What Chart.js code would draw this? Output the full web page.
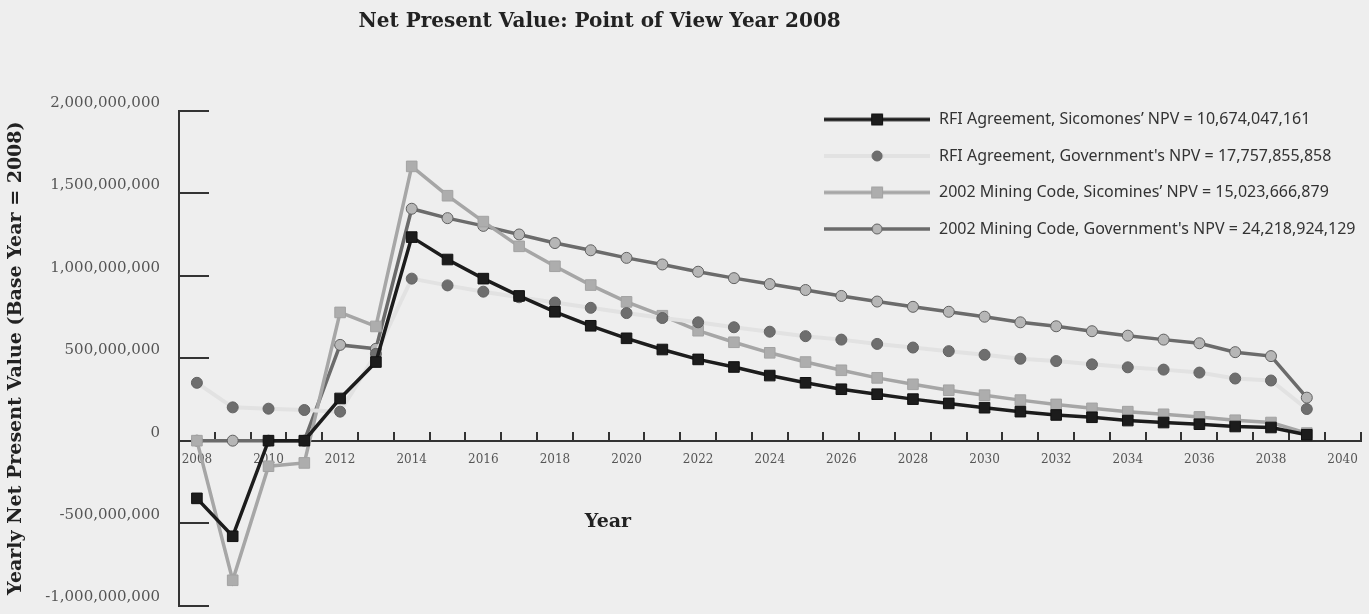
<!DOCTYPE html>
<html>
<head>
<meta charset="utf-8">
<script src="https://cdn.jsdelivr.net/npm/chart.js@4/dist/chart.umd.min.js"></script>
<style>
  html, body { margin: 0; padding: 0; background: #eeeeee; }
  #wrap { position: relative; width: 1369px; height: 614px; }
</style>
</head>
<body>
<div id="wrap"><canvas id="npvChart"></canvas></div>
<script>
const years = []
for (let y = 2008; y <= 2040; y++) years.push(String(y))

// yearly NPV, millions
const rfiSicomines = [-350, -580, 0, 0, 256, 477, 1235, 1099, 983, 878, 782, 697, 621, 553, 493, 447,
  395, 351, 312, 282, 252, 226, 200, 176, 156, 142, 122, 110, 100, 86, 80, 36]
const rfiGovernment = [351, 202, 194, 186, 176, 527, 983, 942, 904, 870, 838, 806, 774, 744, 718, 688,
  661, 634, 613, 587, 565, 543, 521, 497, 483, 463, 445, 431, 413, 377, 365, 192]
const codeSicomines = [0, -847, -155, -135, 778, 693, 1664, 1486, 1329, 1179, 1058, 944, 842, 758, 667, 597,
  533, 477, 427, 381, 342, 306, 276, 246, 220, 196, 176, 160, 144, 124, 110, 46]
const codeGovernment = [0, 0, 0, 0, 581, 557, 1407, 1350, 1303, 1251, 1199, 1155, 1109, 1069, 1025, 986,
  950, 914, 878, 844, 812, 782, 752, 718, 694, 664, 637, 613, 591, 537, 513, 261]

const seriesNames = [
  'RFI Agreement, Sicomones\u2019 NPV = 10,674,047,161',
  'RFI Agreement, Government\'s NPV = 17,757,855,858',
  '2002 Mining Code, Sicomines\u2019 NPV = 15,023,666,879',
  '2002 Mining Code, Government\'s NPV = 24,218,924,129'
]

const toUnits = (arr) => arr.map((v) => v * 1e6)

const serif = '"DejaVu Serif", "Liberation Serif", serif'
const axisColor = '#333333'

// legend glyph: line with the marker in the middle
function legendIcon(lineColor, lineWidth, shape, fill, stroke) {
  const c = document.createElement('canvas')
  c.width = 106
  c.height = 16
  const g = c.getContext('2d')
  g.strokeStyle = lineColor
  g.lineWidth = lineWidth
  g.beginPath()
  g.moveTo(0, 8)
  g.lineTo(106, 8)
  g.stroke()
  g.fillStyle = fill
  g.strokeStyle = stroke
  g.lineWidth = 1
  g.beginPath()
  if (shape === 'rect') g.rect(47.5, 2.5, 11, 11)
  else g.arc(53, 8, 5, 0, Math.PI * 2)
  g.fill()
  g.stroke()
  return c
}

const icons = [
  legendIcon('#1c1c1c', 3.5, 'rect', '#1c1c1c', '#111111'),
  legendIcon('#e2e2e2', 4, 'circle', '#6e6e6e', '#626262'),
  legendIcon('#a6a6a6', 3.5, 'rect', '#adadad', '#a2a2a2'),
  legendIcon('#6b6b6b', 3.5, 'circle', '#b6b6b6', '#5f5f5f')
]

const layoutTweaks = {
  id: 'layoutTweaks',
  afterLayout(chart) {
    const ca = chart.chartArea
    const lg = chart.legend
    lg.left = ca.right - lg.width + 5
    lg.right = lg.left + lg.width
    lg.top = ca.top - 20
    const t = chart.titleBlock
    t.left = 0
    t.right = 2 * (ca.left + (ca.right - ca.left) * 0.356)
  },
  afterDraw(chart) {
    const { ctx, chartArea: ca, scales } = chart
    ctx.save()
    ctx.font = 'bold 19px ' + serif
    ctx.fillStyle = '#222222'
    ctx.textAlign = 'center'
    ctx.textBaseline = 'middle'
    ctx.fillText('Year', ca.left + (ca.right - ca.left) * 0.363, scales.y.getPixelForValue(0) + 81)
    ctx.restore()
  }
}

const commonLine = {
  tension: 0,
  borderWidth: 3.5,
  pointBorderWidth: 1
}

const data = {
  labels: years,
  datasets: [
    {
      label: seriesNames[0],
      data: toUnits(rfiSicomines),
      borderColor: '#1c1c1c',
      pointStyle: 'rect',
      pointRadius: 7.5,
      pointBackgroundColor: '#1c1c1c',
      pointBorderColor: '#111111',
      ...commonLine
    },
    {
      label: seriesNames[1],
      data: toUnits(rfiGovernment),
      borderColor: '#e2e2e2',
      pointStyle: 'circle',
      pointRadius: 5.5,
      pointBackgroundColor: '#6e6e6e',
      pointBorderColor: '#626262',
      ...commonLine,
      borderWidth: 4
    },
    {
      label: seriesNames[2],
      data: toUnits(codeSicomines),
      borderColor: '#a6a6a6',
      pointStyle: 'rect',
      pointRadius: 7.5,
      pointBackgroundColor: '#adadad',
      pointBorderColor: '#a2a2a2',
      ...commonLine
    },
    {
      label: seriesNames[3],
      data: toUnits(codeGovernment),
      borderColor: '#6b6b6b',
      pointStyle: 'circle',
      pointRadius: 5.5,
      pointBackgroundColor: '#b6b6b6',
      pointBorderColor: '#5f5f5f',
      ...commonLine
    }
  ]
}

const config = {
  type: 'line',
  data,
  plugins: [layoutTweaks],
  options: {
    responsive: true,
    maintainAspectRatio: false,
    animation: false,
    layout: { padding: { left: 0, right: 7, top: 0, bottom: 8 } },
    plugins: {
      tooltip: { enabled: false },
      title: {
        display: true,
        text: 'Net Present Value: Point of View Year 2008',
        color: '#222222',
        font: { family: serif, size: 20, weight: 'bold' },
        padding: { top: 10, bottom: 77 }
      },
      legend: {
        position: 'chartArea',
        align: 'start',
        labels: {
          usePointStyle: true,
          pointStyleWidth: 108,
          padding: 20.5,
          color: '#333333',
          font: { family: '"Noto Sans", sans-serif', size: 16 },
          generateLabels(chart) {
            const items = Chart.defaults.plugins.legend.labels.generateLabels(chart)
            items.forEach((it, i) => { it.pointStyle = icons[i] })
            return items
          }
        }
      }
    },
    scales: {
      x: {
        type: 'category',
        position: { y: 0 },
        offset: true,
        grid: {
          display: true,
          drawOnChartArea: false,
          offset: true,
          tickLength: -10,
          color: axisColor,
          lineWidth: 2
        },
        border: { display: true, color: axisColor, width: 2 },
        ticks: {
          autoSkip: false,
          maxRotation: 0,
          padding: 22,
          color: '#555555',
          font: { family: '"DejaVu Serif", serif', size: 12 },
          callback: (v, i) => (i % 2 === 0 ? years[i] : '')
        },
        afterFit: (s) => { s.paddingLeft = 0; s.paddingRight = 0 }
      },
      y: {
        min: -1e9,
        max: 2e9,
        grid: {
          display: true,
          drawOnChartArea: false,
          tickLength: -30,
          color: axisColor,
          lineWidth: 2
        },
        border: { display: true, color: axisColor, width: 2 },
        ticks: {
          stepSize: 5e8,
          padding: 49,
          labelOffset: -8,
          color: '#555555',
          font: { family: '"DejaVu Serif", serif', size: 15 },
          callback: (v) => Number(v).toLocaleString('en-US')
        },
        title: {
          display: true,
          text: 'Yearly Net Present Value (Base Year = 2008)',
          color: '#222222',
          font: { family: serif, size: 19, weight: 'bold' },
          padding: { top: 5, bottom: 0 }
        },
        afterFit: (s) => { s.width = 179; s.paddingTop = 0; s.paddingBottom = 0 }
      }
    }
  }
}

const ctx = document.getElementById('npvChart').getContext('2d')
const npvChart = new Chart(ctx, config)
</script>
</body>
</html>
